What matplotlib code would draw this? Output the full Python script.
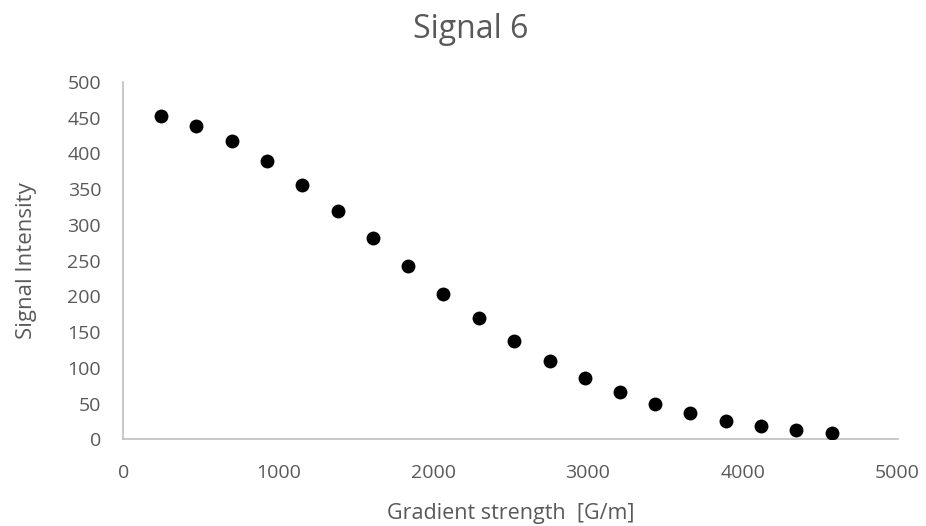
import matplotlib
matplotlib.use("Agg")
import matplotlib.pyplot as plt

# Gradient strength [G/m] and measured signal intensity
gradient = [243, 471, 700, 928, 1156, 1384, 1610, 1838, 2067, 2295,
            2524, 2753, 2979, 3207, 3435, 3661, 3889, 4117, 4345, 4574]
intensity = [452, 439, 418, 389, 356, 319, 281, 242, 204, 170,
             138, 110, 86, 66, 49, 37, 26, 19, 13, 9]

x_ticks = [0, 1000, 2000, 3000, 4000, 5000]
y_ticks = [0, 50, 100, 150, 200, 250, 300, 350, 400, 450, 500]

plt.rcParams['font.family'] = ['Open Sans', 'DejaVu Sans']
text_grey = '#595959'
axis_grey = '#BFBFBF'

fig = plt.figure(figsize=(9.26, 5.26), dpi=100)
ax = fig.add_axes([0.1332, 0.1648, 0.8362, 0.6794])

ax.scatter(gradient, intensity, s=100, color='black', zorder=3, linewidths=0)

ax.set_xlim(0, 5000)
ax.set_ylim(0, 500)
ax.set_xticks(x_ticks)
ax.set_yticks(y_ticks)

for side in ('top', 'right'):
    ax.spines[side].set_visible(False)
for side in ('left', 'bottom'):
    ax.spines[side].set_color(axis_grey)
    ax.spines[side].set_linewidth(1.2)

ax.tick_params(axis='both', length=0, labelsize=14, labelcolor=text_grey)
ax.tick_params(axis='y', pad=16)
ax.tick_params(axis='x', pad=18)

ax.set_xlabel('Gradient strength  [G/m]', fontsize=15.5, color=text_grey, labelpad=15)
ax.set_ylabel('Signal Intensity', fontsize=16, color=text_grey, labelpad=22)

fig.text(0.508, 0.944, 'Signal 6', ha='center', va='center',
         fontsize=23, color=text_grey)

fig.savefig('out.png', dpi=100)
